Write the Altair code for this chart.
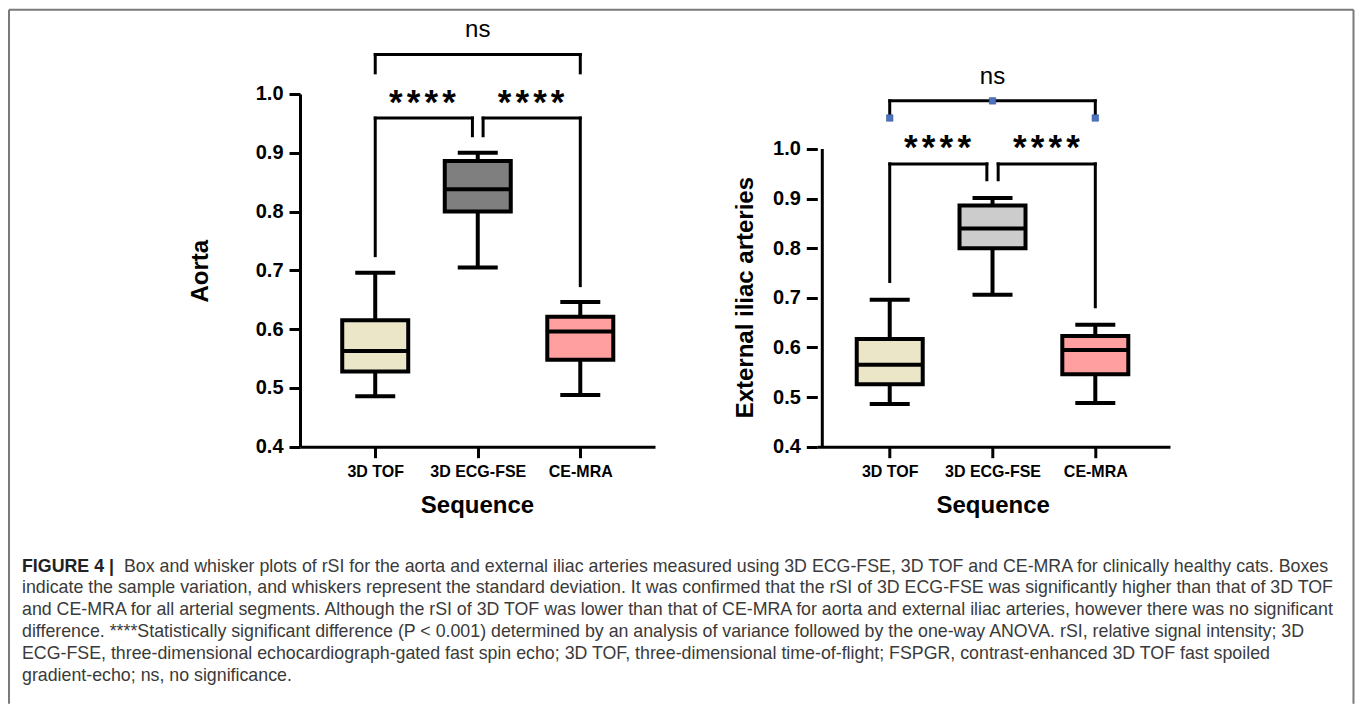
import json
import altair as alt
import pandas as pd

# ---------------- data ----------------
categories = ["3D TOF", "3D ECG-FSE", "CE-MRA"]
positions = [1, 2, 3]

aorta_min = [0.486, 0.705, 0.488]
aorta_q1 = [0.528, 0.800, 0.548]
aorta_median = [0.563, 0.838, 0.596]
aorta_q3 = [0.615, 0.886, 0.621]
aorta_max = [0.696, 0.900, 0.646]

iliac_min = [0.486, 0.706, 0.488]
iliac_q1 = [0.526, 0.800, 0.546]
iliac_median = [0.565, 0.840, 0.595]
iliac_q3 = [0.617, 0.886, 0.623]
iliac_max = [0.696, 0.901, 0.646]

aorta_colors = ["#ece6c9", "#7f7f7f", "#ff9f9f"]
iliac_colors = ["#ece6c9", "#cccccc", "#ff9f9f"]

y_ticks = [0.4, 0.5, 0.6, 0.7, 0.8, 0.9, 1.0]

# brackets: (x_start, x_end, y_bar, y_left_end, y_right_end)
aorta_brackets = [
    (1, 1.948, 0.959, 0.725, 0.929),
    (2.052, 3, 0.959, 0.929, 0.674),
    (1, 3, 1.067, 1.036, 1.036),
]
iliac_brackets = [
    (1, 1.945, 0.970, 0.733, 0.938),
    (2.055, 3, 0.970, 0.938, 0.682),
    (1, 3, 1.097, 1.0625, 1.0625),
]
sig_labels = ["****", "****"]
aorta_sig_x = [1.46, 2.52]
aorta_sig_y = [0.993, 0.993]
iliac_sig_x = [1.465, 2.525]
iliac_sig_y = [1.013, 1.013]
ns_label = "ns"
aorta_ns = (2, 1.097)
iliac_ns = (2, 1.132)
iliac_marker_x = [1, 2, 3]
iliac_marker_y = [1.0625, 1.097, 1.0625]

caption_bold = "FIGURE 4 |"
caption_lines = [
    "Box and whisker plots of rSI for the aorta and external iliac arteries measured using 3D ECG-FSE, 3D TOF and CE-MRA for clinically healthy cats. Boxes",
    "indicate the sample variation, and whiskers represent the standard deviation. It was confirmed that the rSI of 3D ECG-FSE was significantly higher than that of 3D TOF",
    "and CE-MRA for all arterial segments. Although the rSI of 3D TOF was lower than that of CE-MRA for aorta and external iliac arteries, however there was no significant",
    "difference. ****Statistically significant difference (P < 0.001) determined by an analysis of variance followed by the one-way ANOVA. rSI, relative signal intensity; 3D",
    "ECG-FSE, three-dimensional echocardiograph-gated fast spin echo; 3D TOF, three-dimensional time-of-flight; FSPGR, contrast-enhanced 3D TOF fast spoiled",
    "gradient-echo; ns, no significance.",
]

FONT = "Liberation Sans"
label_expr = json.dumps(categories) + "[datum.value - 1]"
STAR_PITCH = 0.173  # spacing between asterisk glyphs, in x units


def panel(mins, q1s, meds, q3s, maxs, colors, brackets, sig_x, sig_y, ns_pos,
          ytitle, width, height, xdom, ydom, ytitle_x, ytitle_y, xtitle_x,
          draw_axis_line, markers=None):
    df = pd.DataFrame({"cat": categories, "pos": positions, "lo": mins, "q1": q1s,
                       "med": meds, "q3": q3s, "hi": maxs})

    xaxis = alt.Axis(values=positions, labelExpr=label_expr, title="Sequence",
                     grid=False, domain=True, domainColor="black", domainWidth=3,
                     ticks=True, tickColor="black", tickWidth=3, tickSize=11,
                     labelFont=FONT, labelFontSize=16, labelFontWeight="bold",
                     labelColor="black", labelPadding=14, labelBaseline="middle",
                     titleFont=FONT, titleFontSize=24, titleFontWeight="bold",
                     titleColor="black", titleX=xtitle_x, titleY=59,
                     titleBaseline="middle", titleAlign="center")
    yaxis = alt.Axis(values=y_ticks, format=".1f", title=ytitle, grid=False,
                     domain=not draw_axis_line, domainColor="black", domainWidth=3,
                     ticks=True, tickColor="black", tickWidth=3, tickSize=11,
                     labelFont=FONT, labelFontSize=20, labelFontWeight="bold",
                     labelColor="black", labelPadding=6,
                     titleFont=FONT, titleFontSize=24, titleFontWeight="bold",
                     titleColor="black", titleX=ytitle_x, titleY=ytitle_y,
                     titleBaseline="middle", titleAlign="center", titleAngle=270)
    xs = alt.Scale(domain=xdom, nice=False, zero=False)
    ys = alt.Scale(domain=ydom, nice=False, zero=False)

    def X(f):
        return alt.X(f, type="quantitative", scale=xs, axis=xaxis)

    def Y(f):
        return alt.Y(f, type="quantitative", scale=ys, axis=yaxis)

    base = alt.Chart(df)
    whisk = base.mark_rule(color="black", strokeWidth=4).encode(
        x=X("pos"), y=Y("lo"), y2="hi")
    box = base.mark_bar(size=66, stroke="black", strokeWidth=4).encode(
        x=X("pos"), y=Y("q1"), y2="q3",
        fill=alt.Fill("cat:N", scale=alt.Scale(domain=categories, range=colors),
                      legend=None))
    med = base.mark_tick(orient="horizontal", size=64, thickness=4, color="black",
                         opacity=1).encode(x=X("pos"), y=Y("med"))
    cap_lo = base.mark_tick(orient="horizontal", size=40, thickness=4, color="black",
                            opacity=1).encode(x=X("pos"), y=Y("lo"))
    cap_hi = base.mark_tick(orient="horizontal", size=40, thickness=4, color="black",
                            opacity=1).encode(x=X("pos"), y=Y("hi"))

    segs = []
    for (xa, xb, yb, yl, yr) in brackets:
        segs.append({"x": xa, "x2": xa, "y": yl, "y2": yb})
        segs.append({"x": xa, "x2": xb, "y": yb, "y2": yb})
        segs.append({"x": xb, "x2": xb, "y": yb, "y2": yr})
    seg_df = pd.DataFrame(segs)
    brk = alt.Chart(seg_df).mark_rule(color="black", strokeWidth=3,
                                      strokeCap="square").encode(
        x=X("x"), x2="x2", y=Y("y"), y2="y2")

    # significance stars: one glyph per character, spread around the group center
    stars = []
    for lab, cx, cy in zip(sig_labels, sig_x, sig_y):
        n = len(lab)
        for i, ch in enumerate(lab):
            stars.append({"x": cx + (i - (n - 1) / 2) * STAR_PITCH, "y": cy, "t": ch})
    sig_df = pd.DataFrame(stars)
    sig = alt.Chart(sig_df).mark_text(font=FONT, fontSize=35, fontWeight="bold",
                                      color="black", baseline="middle", dy=5).encode(
        x=X("x"), y=Y("y"), text="t:N")
    ns_df = pd.DataFrame({"x": [ns_pos[0]], "y": [ns_pos[1]], "t": [ns_label]})
    ns = alt.Chart(ns_df).mark_text(font=FONT, fontSize=24, color="black",
                                    baseline="alphabetic").encode(
        x=X("x"), y=Y("y"), text="t:N")

    layers = [whisk, box, med, cap_lo, cap_hi, brk, sig, ns]
    if draw_axis_line:
        line_df = pd.DataFrame({"x": [xdom[0]], "y": [y_ticks[0]], "y2": [y_ticks[-1]]})
        layers.append(alt.Chart(line_df).mark_rule(color="black", strokeWidth=3).encode(
            x=X("x"), y=Y("y"), y2="y2"))
    if markers is not None:
        m_df = pd.DataFrame({"x": markers[0], "y": markers[1]})
        layers.append(alt.Chart(m_df).mark_square(size=42, color="#4d73bf", opacity=1,
                                                  stroke="#3b5a9a", strokeWidth=0.6).encode(
            x=X("x"), y=Y("y")))
    return alt.layer(*layers)


H = 352.7
left_core = panel(aorta_min, aorta_q1, aorta_median, aorta_q3, aorta_max, aorta_colors,
                  aorta_brackets, aorta_sig_x, aorta_sig_y, aorta_ns, "Aorta",
                  355, H, [0.315, 3.68], [0.4, 1.0], -100, 176.7, 177, False)
right = panel(iliac_min, iliac_q1, iliac_median, iliac_q3, iliac_max, iliac_colors,
              iliac_brackets, iliac_sig_x, iliac_sig_y, iliac_ns,
              "External iliac arteries", 352.7, H, [0.344, 3.678],
              [0.4, 0.4 + 0.6 * H / 297.7], -71.3, 203.2, 175.4, True,
              markers=(iliac_marker_x, iliac_marker_y)).properties(width=352.7, height=H)

# ---------------- caption + frame (drawn in the left panel's group) ----------------
n_lines = len(caption_lines)
cap_df = pd.DataFrame({"line": list(range(n_lines)), "text": caption_lines})
cap_y = alt.Y("line:Q", axis=None,
              scale=alt.Scale(domain=[0, n_lines - 1],
                              range=[472.7, 472.7 + 21.8 * (n_lines - 1)],
                              nice=False, zero=False))
text_kw = dict(font=FONT, fontSize=17.8, color="#3a3a3a", align="left",
               baseline="middle")
cap_first = alt.Chart(cap_df).transform_filter("datum.line == 0").mark_text(
    **text_kw).encode(y=cap_y, text="text:N", x=alt.value(-176))
cap_rest = alt.Chart(cap_df).transform_filter("datum.line > 0").mark_text(
    **text_kw).encode(y=cap_y, text="text:N", x=alt.value(-278))
bold_df = pd.DataFrame({"line": [0], "text": [caption_bold]})
cap_bold = alt.Chart(bold_df).mark_text(font=FONT, fontSize=17.8, fontWeight="bold",
                                        color="#222222", align="left",
                                        baseline="middle").encode(
    y=cap_y, text="text:N", x=alt.value(-278))
frame_df = pd.DataFrame({"k": [0]})
frame_kw = dict(color="#7a7a7a", strokeWidth=2)
frame_l = alt.Chart(frame_df).mark_rule(**frame_kw).encode(
    x=alt.value(-291), y=alt.value(-84.3), y2=alt.value(609.7))
frame_t = alt.Chart(frame_df).mark_rule(**frame_kw).encode(
    x=alt.value(-291), x2=alt.value(1053.5), y=alt.value(-84.3))
frame_r = alt.Chart(frame_df).mark_rule(**frame_kw).encode(
    x=alt.value(1053.5), y=alt.value(-84.3), y2=alt.value(609.7))
caption = alt.layer(cap_first, cap_rest, cap_bold)

left = alt.layer(frame_l, frame_t, frame_r, left_core, caption).resolve_scale(
    y="independent").properties(width=355, height=H)

chart = alt.hconcat(left, right, spacing=162.3, bounds="flush").resolve_scale(
    fill="independent").properties(padding=0).configure_view(stroke=None)

chart.save("out.html", embed_options={"renderer": "svg", "actions": False})
